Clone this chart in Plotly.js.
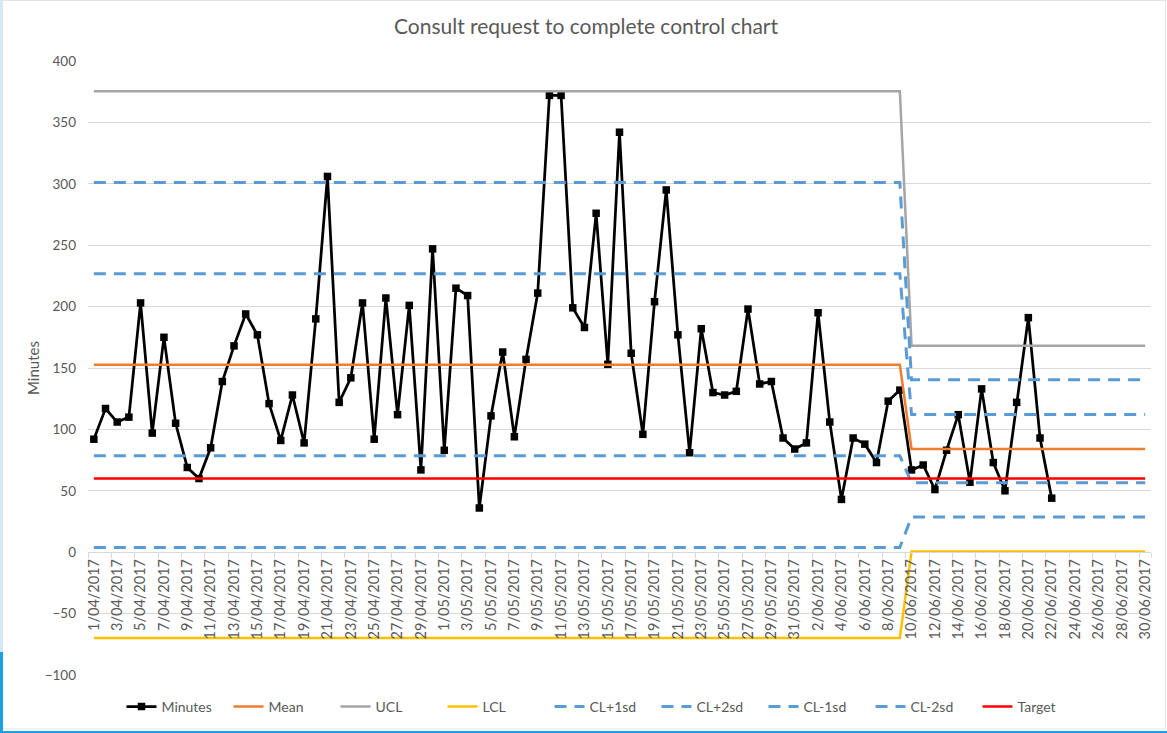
<!DOCTYPE html>
<html>
<head>
<meta charset="utf-8">
<script src="https://cdn.plot.ly/plotly-3.0.1.min.js"></script>
<style>
  html, body { margin: 0; padding: 0; background: #ffffff; }
  #chart { width: 1167px; height: 733px; }
</style>
</head>
<body>
<div id="chart"></div>
<script>
// ---- categories (daily) ----
const datesApril = ["1/04/2017","2/04/2017","3/04/2017","4/04/2017","5/04/2017","6/04/2017","7/04/2017","8/04/2017","9/04/2017","10/04/2017",
  "11/04/2017","12/04/2017","13/04/2017","14/04/2017","15/04/2017","16/04/2017","17/04/2017","18/04/2017","19/04/2017","20/04/2017",
  "21/04/2017","22/04/2017","23/04/2017","24/04/2017","25/04/2017","26/04/2017","27/04/2017","28/04/2017","29/04/2017","30/04/2017"];
const datesMay = ["1/05/2017","2/05/2017","3/05/2017","4/05/2017","5/05/2017","6/05/2017","7/05/2017","8/05/2017","9/05/2017","10/05/2017",
  "11/05/2017","12/05/2017","13/05/2017","14/05/2017","15/05/2017","16/05/2017","17/05/2017","18/05/2017","19/05/2017","20/05/2017",
  "21/05/2017","22/05/2017","23/05/2017","24/05/2017","25/05/2017","26/05/2017","27/05/2017","28/05/2017","29/05/2017","30/05/2017","31/05/2017"];
const datesJune = ["1/06/2017","2/06/2017","3/06/2017","4/06/2017","5/06/2017","6/06/2017","7/06/2017","8/06/2017","9/06/2017","10/06/2017",
  "11/06/2017","12/06/2017","13/06/2017","14/06/2017","15/06/2017","16/06/2017","17/06/2017","18/06/2017","19/06/2017","20/06/2017",
  "21/06/2017","22/06/2017","23/06/2017","24/06/2017","25/06/2017","26/06/2017","27/06/2017","28/06/2017","29/06/2017","30/06/2017"];
const dates = datesApril.concat(datesMay, datesJune);

// ---- Minutes series (1/04/2017 .. 22/06/2017) ----
const minutes = [
  92,117,106,110,203,97,175,105,69,60,
  85,139,168,194,177,121,91,128,89,190,
  306,122,142,203,92,207,112,201,67,247,
  83,215,209,36,111,163,94,157,211,372,
  372,199,183,276,153,342,162,96,204,295,
  177,81,182,130,128,131,198,137,139,93,
  84,89,195,106,43,93,88,73,123,132,
  67,71,51,83,112,57,133,73,50,122,
  191,93,44
];

// ---- control limits per phase (phase 2 starts at 10/06/2017) ----
const phase2Start = "10/06/2017";
const meanPhases = [152.6, 84.1];
const uclPhases  = [375.3, 168.2];
const lclPhases  = [-69.8, 0.6];
const cl1pPhases = [226.8, 112.1];
const cl2pPhases = [301.0, 140.5];
const cl1mPhases = [78.5, 56.5];
const cl2mPhases = [3.9, 28.6];
const targetValue = [60];

// tick labels: every second day
const tickLabels = dates.filter((d, i) => i % 2 === 0);

// expand phase values over categories
const splitIdx = dates.indexOf(phase2Start);
function expand(ph) { return dates.map((d, i) => (i < splitIdx ? ph[0] : ph[1])); }

const FONT = 'Lato, "Open Sans", "Liberation Sans", sans-serif';
const GREY = '#595959';
const BLUE = '#5b9bd5';
const DASH = '12px,8px';

const traces = [
  { name: 'Minutes', x: dates.slice(0, minutes.length), y: minutes, type: 'scatter', mode: 'lines+markers',
    line: { color: '#000000', width: 2.75 }, marker: { symbol: 'square', size: 7.5, color: '#000000' } },
  { name: 'Mean', x: dates, y: expand(meanPhases), type: 'scatter', mode: 'lines', line: { color: '#ed7d31', width: 2.5 } },
  { name: 'UCL', x: dates, y: expand(uclPhases), type: 'scatter', mode: 'lines', line: { color: '#a5a5a5', width: 2.5 } },
  { name: 'LCL', x: dates, y: expand(lclPhases), type: 'scatter', mode: 'lines', line: { color: '#ffc000', width: 2.5 } },
  { name: 'CL+1sd', x: dates, y: expand(cl1pPhases), type: 'scatter', mode: 'lines', line: { color: BLUE, width: 3, dash: DASH } },
  { name: 'CL+2sd', x: dates, y: expand(cl2pPhases), type: 'scatter', mode: 'lines', line: { color: BLUE, width: 3, dash: DASH } },
  { name: 'CL-1sd', x: dates, y: expand(cl1mPhases), type: 'scatter', mode: 'lines', line: { color: BLUE, width: 3, dash: DASH } },
  { name: 'CL-2sd', x: dates, y: expand(cl2mPhases), type: 'scatter', mode: 'lines', line: { color: BLUE, width: 3, dash: DASH } },
  { name: 'Target', x: dates, y: dates.map(() => targetValue[0]), type: 'scatter', mode: 'lines', line: { color: '#ff0000', width: 2.5 } }
];

// pixel -> paper helpers for frame decoration
const L = 88, R = 16, T = 61, B = 58, W = 1167, H = 733;
const pw = W - L - R, ph = H - T - B;
const px = v => (v - L) / pw;
const py = v => (H - B - v) / ph;

const layout = {
  width: W, height: H,
  margin: { l: L, r: R, t: T, b: B, autoexpand: false },
  paper_bgcolor: '#ffffff', plot_bgcolor: '#ffffff',
  font: { family: FONT, color: GREY, size: 13 },
  title: { text: 'Consult request to complete control chart', x: 586 / W, xref: 'container', xanchor: 'center',
    y: 1 - 27 / H, yref: 'container', yanchor: 'middle', font: { family: FONT, size: 21, color: GREY } },
  showlegend: true,
  legend: { orientation: 'h', x: (603 - L) / pw, xanchor: 'center', y: py(707), yanchor: 'middle',
    entrywidth: 62, entrywidthmode: 'pixels',
    font: { family: FONT, size: 14, color: GREY }, bgcolor: 'rgba(0,0,0,0)', traceorder: 'normal' },
  xaxis: {
    type: 'category', categoryorder: 'array', categoryarray: dates,
    range: [-0.5, dates.length - 0.5], anchor: 'free', position: 0.2,
    tickmode: 'array', tickvals: tickLabels, ticktext: tickLabels, tickangle: -90,
    tickson: 'boundaries', ticks: 'outside', ticklen: 5, tickcolor: '#d9d9d9',
    showline: true, linecolor: '#d9d9d9', linewidth: 1, showgrid: false, zeroline: false,
    tickfont: { family: FONT, size: 14.5, color: GREY }, fixedrange: true
  },
  yaxis: {
    range: [-100, 400], tickmode: 'linear', tick0: -100, dtick: 50,
    showgrid: true, gridcolor: '#d9d9d9', gridwidth: 1, zeroline: false, showline: false,
    ticks: '', ticklabelstandoff: 12, anchor: 'free', position: 0,
    tickfont: { family: FONT, size: 13.5, color: GREY },
    title: { text: 'Minutes', standoff: 0, font: { family: FONT, size: 15, color: GREY } }
  },
  shapes: [
    { type: 'rect', xref: 'paper', yref: 'paper', x0: px(0), x1: px(3), y0: py(0), y1: py(652), fillcolor: '#d6e6f4', line: { width: 0 }, layer: 'above' },
    { type: 'rect', xref: 'paper', yref: 'paper', x0: px(0), x1: px(3), y0: py(652), y1: py(733), fillcolor: '#1ba1e2', line: { width: 0 }, layer: 'above' },
    { type: 'rect', xref: 'paper', yref: 'paper', x0: px(0), x1: px(1167), y0: py(731), y1: py(733), fillcolor: '#1ba1e2', line: { width: 0 }, layer: 'above' },
    { type: 'line', xref: 'paper', yref: 'paper', x0: px(3), x1: px(1165), y0: py(0.5), y1: py(0.5), line: { color: '#e3e3e3', width: 1 } },
    { type: 'line', xref: 'paper', yref: 'paper', x0: px(1165.5), x1: px(1165.5), y0: py(0), y1: py(729), line: { color: '#e3e3e3', width: 1 } },
    { type: 'line', xref: 'paper', yref: 'paper', x0: px(3), x1: px(1165.5), y0: py(729), y1: py(729), line: { color: '#e3e3e3', width: 1 } }
  ]
};

Plotly.newPlot('chart', traces, layout, { displayModeBar: false, staticPlot: true });
</script>
</body>
</html>
